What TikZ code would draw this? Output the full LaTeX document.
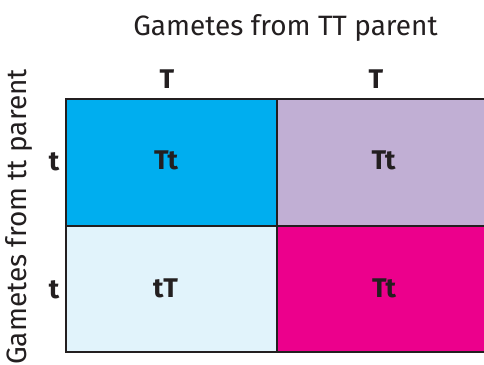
\documentclass[tikz,border=0pt]{standalone}
\usepackage{fontspec}
\setmainfont{Fira Sans}
\definecolor{ink}{HTML}{231F20}
\definecolor{cA}{HTML}{00AEEF}
\definecolor{cB}{HTML}{C1AFD4}
\definecolor{cC}{HTML}{E1F3FB}
\definecolor{cD}{HTML}{EC008C}
\begin{document}
\begin{tikzpicture}[x=1pt,y=-1pt,
  cell/.style={draw=ink,line width=2.7pt},
  lbl/.style={text=ink,font=\fontsize{27}{30}\selectfont\bfseries,inner sep=0pt,anchor=base},
  ttl/.style={text=ink,font=\fontsize{28}{32}\selectfont,inner sep=0pt}]
\useasboundingbox (0,0) rectangle (484,364);
\clip (0,0) rectangle (484,364);
\fill[cA] (66,99) rectangle (277,226);
\fill[cB] (277,99) rectangle (490,226);
\fill[cC] (66,226) rectangle (277,352);
\fill[cD] (277,226) rectangle (490,352);
\draw[cell] (66,99) rectangle (490,352);
\draw[cell] (277,99) -- (277,352);
\draw[cell] (66,226) -- (490,226);
\node[ttl,anchor=base] (title) at (285.5,35) {Gametes from TT parent};
\node[ttl,rotate=90,anchor=base] (side) at (26,217) {Gametes from tt parent};
\node[lbl] (c1) at (167,88) {T};
\node[lbl] (c2) at (376,88) {T};
\node[lbl] (r1) at (54,170) {t};
\node[lbl] (r2) at (54,298) {t};
\node[lbl] (a) at (166,169) {Tt};
\node[lbl] (b) at (383.5,169) {Tt};
\node[lbl] (c) at (165.5,297) {tT};
\node[lbl] (d) at (384,297) {Tt};
\end{tikzpicture}
\end{document}
